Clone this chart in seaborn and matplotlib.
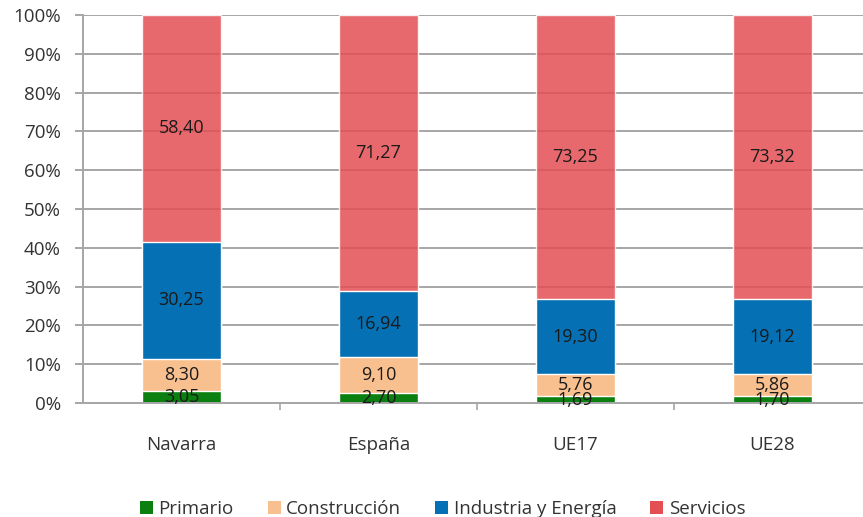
import matplotlib
matplotlib.use('Agg')
import matplotlib.pyplot as plt
from matplotlib.patches import Patch
import numpy as np
import pandas as pd
import seaborn as sns

regiones = ['Navarra', 'España', 'UE17', 'UE28']
sectores = ['Primario', 'Construcción', 'Industria y Energía', 'Servicios']
primario = [3.05, 2.70, 1.69, 1.70]
construccion = [8.30, 9.10, 5.76, 5.86]
industria = [30.25, 16.94, 19.30, 19.12]
servicios = [58.40, 71.27, 73.25, 73.32]
colores = ['#0b7f0f', '#f9c08f', '#0570b3', '#e44f54']

sns.set_style('white')
plt.rcParams['font.family'] = ['Open Sans', 'DejaVu Sans']

df = pd.DataFrame({'region': regiones, 'Primario': primario,
                   'Construcción': construccion,
                   'Industria y Energía': industria, 'Servicios': servicios})
cum = df[sectores].cumsum(axis=1)

fig = plt.figure(figsize=(8.63, 5.17), dpi=100)
ax = fig.add_axes([83 / 863, 114 / 517, 780 / 863, 388 / 517])

# stacked bars: draw cumulative totals from the top segment down
for sector, color in zip(sectores[::-1], colores[::-1]):
    alpha = 0.85 if sector == 'Servicios' else 1.0
    sns.barplot(x=df['region'], y=cum[sector], color=color, width=0.4,
                saturation=1, alpha=alpha, ax=ax, zorder=2)

# value labels in the middle of each segment
for i in range(len(regiones)):
    for sector in sectores:
        val = df.loc[i, sector]
        mid = cum.loc[i, sector] - val / 2
        ax.text(i, mid, f'{val:.2f}'.replace('.', ','), ha='center',
                va='center', fontsize=13, color='#1a1a1a', zorder=3)

ax.set_xlim(-0.5, 3.46)
ax.set_ylim(0, 100)
ax.set_yticks(np.arange(0, 101, 10))
ax.set_yticklabels([f'{v}%' for v in range(0, 101, 10)])
ax.yaxis.grid(True, color='#a6a6a6', linewidth=1.4, zorder=1)
ax.set_axisbelow(True)
ax.set_xlabel('')
ax.set_ylabel('')

ax.set_xticks([0.5, 1.5, 2.5], minor=True)
ax.tick_params(axis='x', which='major', length=0, pad=24, labelsize=13.5,
               colors='#333333')
ax.tick_params(axis='x', which='minor', length=5, width=1.2, color='#a6a6a6',
               direction='out', bottom=True)
ax.tick_params(axis='y', length=6, width=1.4, color='#a6a6a6', pad=10,
               labelsize=13.5, labelcolor='#333333', left=True)

for s in ['top', 'right']:
    ax.spines[s].set_visible(False)
for s in ['left', 'bottom']:
    ax.spines[s].set_color('#a6a6a6')
    ax.spines[s].set_linewidth(1.4)

handles = [Patch(facecolor=c, edgecolor='none') for c in colores]
fig.legend(handles, sectores, loc='lower center', ncol=4, frameon=False,
           bbox_to_anchor=(0.513, -0.035), fontsize=13.5, handlelength=0.7,
           handleheight=0.7, handletextpad=0.3, columnspacing=1.8,
           labelcolor='#333333')

fig.savefig('out.png', dpi=100)
